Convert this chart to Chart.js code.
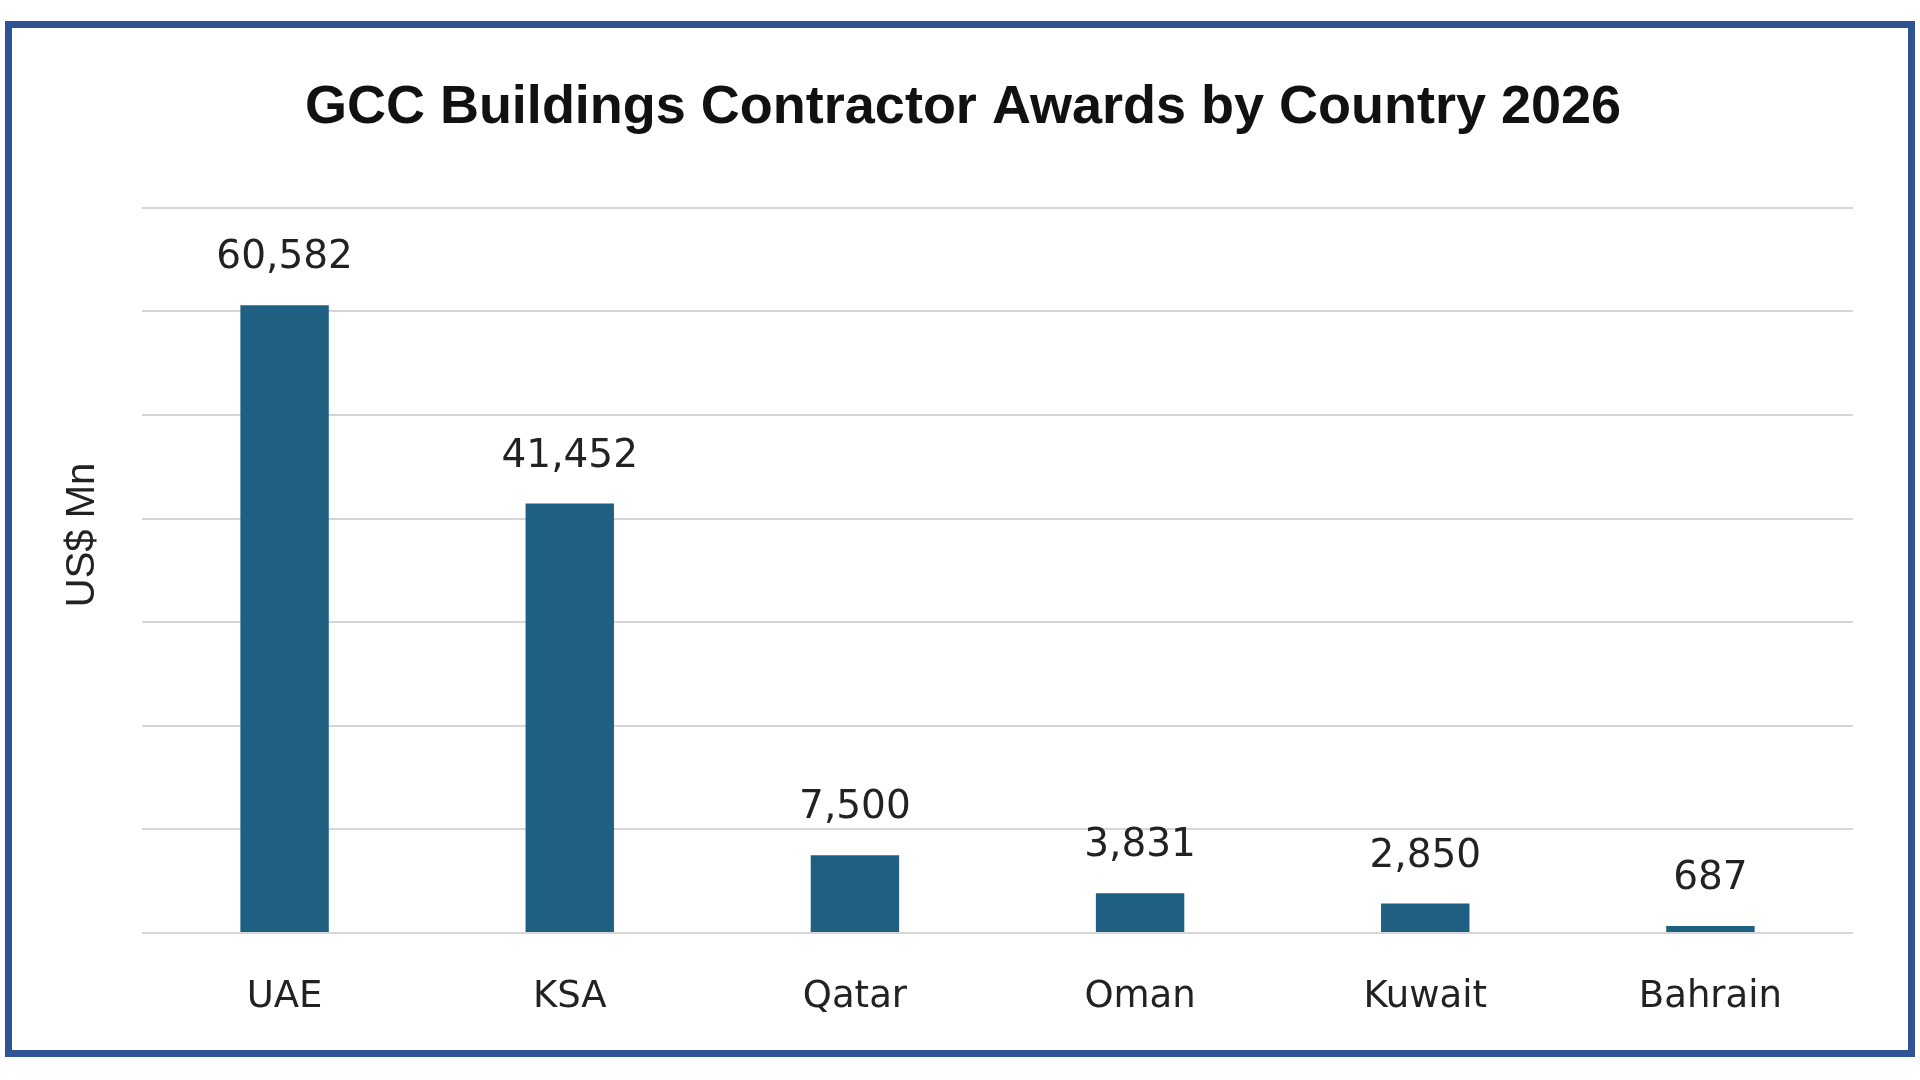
<!DOCTYPE html>
<html>
<head>
<meta charset="utf-8">
<title>GCC Buildings Contractor Awards by Country 2026</title>
<script src="https://cdn.jsdelivr.net/npm/chart.js@4.4.1/dist/chart.umd.min.js"></script>
<style>
    html, body { margin: 0; padding: 0; background: #ffffff; }
    #wrap { position: relative; width: 1920px; height: 1080px; }
    #frame {
        position: absolute; left: 5px; top: 21px; width: 1910px; height: 1036px;
        box-sizing: border-box; border: 7px solid #2f5496; pointer-events: none;
    }
    canvas { position: absolute; left: 0; top: 0; }
</style>
</head>
<body>
<div id="wrap">
    <canvas id="awardsChart" width="1920" height="1080"></canvas>
    <div id="frame"></div>
</div>
<script>
// dados do gráfico
const countries = ['UAE', 'KSA', 'Qatar', 'Oman', 'Kuwait', 'Bahrain'];
const awards = [60582, 41452, 7500, 3831, 2850, 687];
const yMax = 70000;
const yStep = 10000;
const yTitle = 'US$ Mn';

// rótulos de valor acima de cada barra
const valueLabels = {
    id: 'valueLabels',
    afterDatasetsDraw(chart) {
        const ctx = chart.ctx;
        const meta = chart.getDatasetMeta(0);
        ctx.save();
        ctx.font = '39px "DejaVu Sans"';
        ctx.fillStyle = '#222222';
        ctx.textAlign = 'center';
        ctx.textBaseline = 'middle';
        meta.data.forEach((bar, i) => {
            ctx.fillText(awards[i].toLocaleString('en-US'), bar.x, bar.y - 47);
        });
        ctx.restore();
    }
};

// título do eixo Y (um pouco acima do centro, como no original)
const axisTitle = {
    id: 'axisTitle',
    afterDraw(chart) {
        const ctx = chart.ctx;
        ctx.save();
        ctx.translate(83, 535);
        ctx.rotate(-Math.PI / 2);
        ctx.font = '40px "Liberation Sans", Arial, sans-serif';
        ctx.fillStyle = '#222222';
        ctx.textAlign = 'center';
        ctx.textBaseline = 'middle';
        ctx.fillText(yTitle, 0, 0);
        ctx.restore();
    }
};

const ctx = document.getElementById('awardsChart').getContext('2d');
const awardsChart = new Chart(ctx, {
    type: 'bar',
    data: {
        labels: countries,
        datasets: [{
            label: yTitle,
            data: awards,
            backgroundColor: '#1e5f82',
            borderWidth: 0,
            barPercentage: 0.31,
            categoryPercentage: 1
        }]
    },
    options: {
        responsive: false,
        animation: false,
        layout: {
            padding: { left: 73, right: 67, top: 44, bottom: 67 }
        },
        plugins: {
            legend: { display: false },
            tooltip: { enabled: false },
            title: {
                display: true,
                text: 'GCC Buildings Contractor Awards by Country 2026',
                color: '#111111',
                font: { family: '"Liberation Sans", Arial, sans-serif', size: 54, weight: 'bold' },
                padding: { top: 32, bottom: 67 }
            }
        },
        scales: {
            x: {
                grid: { display: false },
                border: { display: false },
                ticks: {
                    color: '#222222',
                    font: { family: '"DejaVu Sans"', size: 37 },
                    padding: 34,
                    maxRotation: 0
                },
                afterFit: (scale) => { scale.height = 80; }
            },
            y: {
                min: 0,
                max: yMax,
                ticks: { display: false, stepSize: yStep },
                grid: { color: '#d6d6d6', lineWidth: 2, drawTicks: false },
                border: { display: false },
                afterFit: (scale) => { scale.width = 69; }
            }
        }
    },
    plugins: [valueLabels, axisTitle]
});
</script>
</body>
</html>
